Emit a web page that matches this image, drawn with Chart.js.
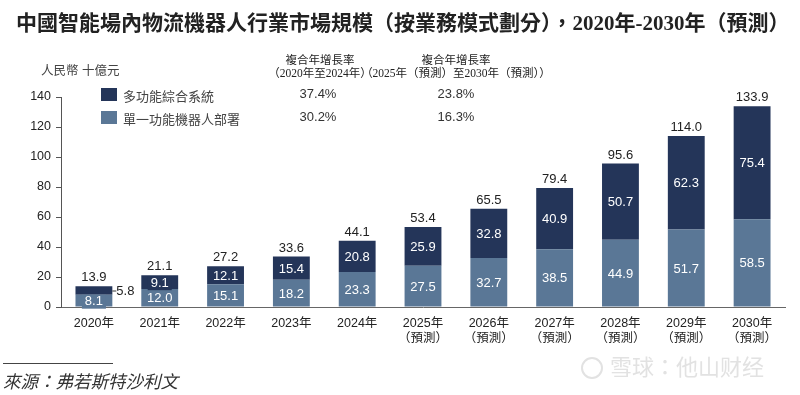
<!DOCTYPE html>
<html>
<head>
<meta charset="utf-8">
<script src="https://cdn.jsdelivr.net/npm/chart.js@4.4.1/dist/chart.umd.min.js"></script>
<style>
  html, body { margin: 0; padding: 0; background: #fff; }
  #wrap { position: relative; width: 800px; height: 395px; overflow: hidden; font-family: "Liberation Sans", "Noto Sans CJK TC", sans-serif; }
  #chart { position: absolute; left: 0; top: 0; }
  .txt { position: absolute; white-space: nowrap; color: #333; }
  #title { left: 16px; top: 9px; font: bold 21px/28px "Liberation Serif", "Noto Sans CJK TC", serif; color: #222; }
  #unit { left: 41px; top: 60px; font-size: 12.5px; color: #444; }
  .head { font-size: 11.5px; line-height: 13px; text-align: center; color: #222; font-family: "Liberation Serif", "Noto Sans CJK TC", serif; }
  .legend-box { position: absolute; width: 16px; height: 13px; }
  .legend-text { font-size: 13px; color: #444; }
  .cagr { font-size: 13px; color: #333; transform: translateX(-50%); }
  #srcLine { position: absolute; left: 3px; top: 363px; width: 110px; height: 1px; background: #444; }
  #source { left: 3px; top: 369px; font: italic 17.5px/24px "Noto Sans CJK TC", serif; color: #333; }
  #markIcon { position: absolute; left: 581px; top: 357px; width: 18px; height: 18px; border: 2px solid #e2e2e2; border-radius: 50%; }
  #mark { left: 610px; top: 354px; font-size: 22px; line-height: 28px; color: #e2e2e2; }
</style>
</head>
<body>
<div id="wrap">
  <canvas id="chart" width="800" height="395"></canvas>
  <div id="title" class="txt">中國智能場內物流機器人行業市場規模（按業務模式劃分），2020年-2030年（預測）</div>
  <div id="unit" class="txt">人民幣 十億元</div>
  <div id="head1" class="txt head" style="left:320px; top:54px; transform:translateX(-50%);">複合年增長率<br>（2020年至2024年）</div>
  <div id="head2" class="txt head" style="left:456px; top:54px; transform:translateX(-50%);">複合年增長率<br>（2025年（預測）至2030年（預測））</div>
  <div id="legend"></div>
  <div id="srcLine"></div>
  <div id="source" class="txt">來源：弗若斯特沙利文</div>
  <div id="markIcon"></div>
  <div id="mark" class="txt">雪球：他山财经</div>
</div>

<script>
// categories
const years = ["2020年", "2021年", "2022年", "2023年", "2024年", "2025年", "2026年", "2027年", "2028年", "2029年", "2030年"];
const forecastFrom = 5; // index of first forecast year
const forecastNote = "（預測）";

// series values (RMB bn)
const singleFunction = [8.1, 12.0, 15.1, 18.2, 23.3, 27.5, 32.7, 38.5, 44.9, 51.7, 58.5];
const multiFunction = [5.8, 9.1, 12.1, 15.4, 20.8, 25.9, 32.8, 40.9, 50.7, 62.3, 75.4];
const totals = [13.9, 21.1, 27.2, 33.6, 44.1, 53.4, 65.5, 79.4, 95.6, 114.0, 133.9];

// legend + CAGR table
const seriesNames = ["多功能綜合系統", "單一功能機器人部署"];
const cagrHistoric = ["37.4%", "30.2%"];
const cagrForecast = ["23.8%", "16.3%"];

// y axis
const yMin = 0;
const yMax = 140;
const yStep = 20;

const darkBlue = "#243559";
const steelBlue = "#5a7796";
const seriesColors = [darkBlue, steelBlue];

const xLabels = years.map((y, i) => i >= forecastFrom ? [y, forecastNote] : y);

// legend rows (html)
const legend = document.getElementById("legend");
const legendTops = [88, 111];
seriesNames.forEach((name, i) => {
  const box = document.createElement("div");
  box.className = "legend-box";
  box.style.left = "101px";
  box.style.top = legendTops[i] + "px";
  box.style.background = seriesColors[i];
  legend.appendChild(box);

  const t = document.createElement("div");
  t.className = "txt legend-text";
  t.style.left = "123px";
  t.style.top = (legendTops[i] - 2) + "px";
  t.textContent = name;
  legend.appendChild(t);

  const c1 = document.createElement("div");
  c1.className = "txt cagr";
  c1.style.left = "318px";
  c1.style.top = (legendTops[i] - 2) + "px";
  c1.textContent = cagrHistoric[i];
  legend.appendChild(c1);

  const c2 = document.createElement("div");
  c2.className = "txt cagr";
  c2.style.left = "456px";
  c2.style.top = (legendTops[i] - 2) + "px";
  c2.textContent = cagrForecast[i];
  legend.appendChild(c2);
});

// value labels inside / above the bars
const barLabels = {
  id: "barLabels",
  afterDatasetsDraw(chart) {
    const ctx = chart.ctx;
    ctx.save();
    ctx.font = "13px 'Liberation Sans', Arial, sans-serif";
    ctx.textAlign = "center";
    ctx.textBaseline = "middle";

    chart.data.datasets.forEach((ds, di) => {
      const meta = chart.getDatasetMeta(di);
      meta.data.forEach((bar, i) => {
        const h = Math.abs(bar.base - bar.y);
        const cy = (bar.y + bar.base) / 2;
        const text = ds.data[i].toFixed(1);
        if (h < 10) {
          // too thin: put it on the right with a short leader
          const x0 = bar.x + bar.width / 2;
          ctx.strokeStyle = "#333";
          ctx.lineWidth = 1;
          ctx.beginPath();
          ctx.moveTo(x0, cy + 0.5);
          ctx.lineTo(x0 + 4, cy + 0.5);
          ctx.stroke();
          ctx.fillStyle = "#222";
          ctx.textAlign = "left";
          ctx.fillText(text, x0 + 4, cy + 1);
          ctx.textAlign = "center";
          return;
        }
        if (h < 16) {
          const w = ctx.measureText(text).width + 6;
          ctx.fillStyle = ds.backgroundColor;
          ctx.fillRect(bar.x - w / 2, cy - 7 + 1, w, 14);
        }
        ctx.fillStyle = "#fff";
        ctx.fillText(text, bar.x, cy + 1);
      });
    });

    // totals above the stack
    const topMeta = chart.getDatasetMeta(chart.data.datasets.length - 1);
    ctx.fillStyle = "#222";
    ctx.textBaseline = "alphabetic";
    topMeta.data.forEach((bar, i) => {
      ctx.fillText(totals[i].toFixed(1), bar.x, bar.y - 5);
    });
    ctx.restore();
  }
};

new Chart(document.getElementById("chart"), {
  type: "bar",
  data: {
    labels: xLabels,
    datasets: [
      { label: seriesNames[1], data: singleFunction, backgroundColor: steelBlue, borderWidth: 0 },
      { label: seriesNames[0], data: multiFunction, backgroundColor: darkBlue, borderWidth: 0 }
    ]
  },
  options: {
    responsive: false,
    animation: false,
    layout: { padding: { top: 97, right: 15, left: 0, bottom: 0 } },
    plugins: {
      legend: { display: false },
      title: { display: false },
      tooltip: { enabled: false }
    },
    datasets: { bar: { categoryPercentage: 1, barPercentage: 0.56 } },
    scales: {
      x: {
        stacked: true,
        grid: { display: false, drawTicks: false },
        border: { display: true, color: "#666", width: 1 },
        ticks: { color: "#222", padding: 9, font: { size: 12.5, family: "'Liberation Sans', 'Noto Sans CJK TC', sans-serif" } },
        afterFit(scale) { scale.height = 88; }
      },
      y: {
        stacked: true,
        min: yMin,
        max: yMax,
        ticks: { stepSize: yStep, color: "#222", padding: 5, font: { size: 12.5, family: "'Liberation Sans', Arial, sans-serif" } },
        grid: { drawOnChartArea: false, drawTicks: true, tickLength: 5, color: "#555" },
        border: { display: true, color: "#555", width: 1 },
        afterFit(scale) { scale.width = 61; }
      }
    }
  },
  plugins: [barLabels]
});
</script>
</body>
</html>
